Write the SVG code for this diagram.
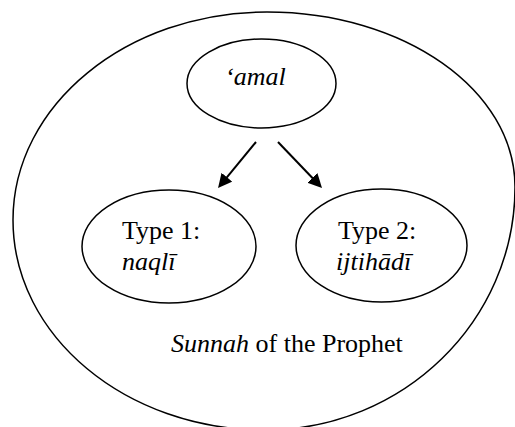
<svg xmlns="http://www.w3.org/2000/svg" width="515" height="427" viewBox="0 0 515 427">
<style>
.shape{fill:none;stroke:#000;stroke-width:1.5}
.arrow{fill:none;stroke:#000;stroke-width:2}
</style>
<defs>
<marker id="head" markerUnits="userSpaceOnUse" viewBox="0 0 14 14" refX="4" refY="7" markerWidth="14" markerHeight="14" orient="auto">
<path d="M0,0 L14,7 L0,14 z" fill="#000"/>
</marker>
</defs>
<rect width="515" height="427" fill="#fff"/>
<g id="sunnah">
<path class="shape" d="M267,12 C404,12 515,90 515,187 C515,321 403,430 265,430 C126,430 13,336 13,220 C13,105 127,12 267,12 Z"/>
<text x="171" y="352" font-family="Liberation Serif" font-size="26"><tspan font-style="italic">Sunnah</tspan> of the Prophet</text>
</g>
<g id="amal">
<ellipse class="shape" cx="261.5" cy="83.5" rx="74.5" ry="44.5"/>
<text x="225" y="85" font-family="Liberation Serif" font-size="26" font-style="italic">‘amal</text>
</g>
<g id="type1">
<ellipse class="shape" cx="169" cy="246.5" rx="87" ry="56.5"/>
<text x="122" y="239" font-family="Liberation Serif" font-size="26">Type 1:</text>
<text x="122" y="270" font-family="Liberation Serif" font-size="26" font-style="italic">naqlī</text>
</g>
<g id="type2">
<ellipse class="shape" cx="381.5" cy="245.5" rx="85.5" ry="56.5"/>
<text x="338" y="239" font-family="Liberation Serif" font-size="26">Type 2:</text>
<text x="336" y="270" font-family="Liberation Serif" font-size="26" font-style="italic">ijtihādī</text>
</g>
<g id="connectors">
<line class="arrow" x1="256" y1="142" x2="224.4" y2="180.3" marker-end="url(#head)"/>
<line class="arrow" x1="278" y1="142" x2="315.1" y2="180.8" marker-end="url(#head)"/>
</g>
</svg>
